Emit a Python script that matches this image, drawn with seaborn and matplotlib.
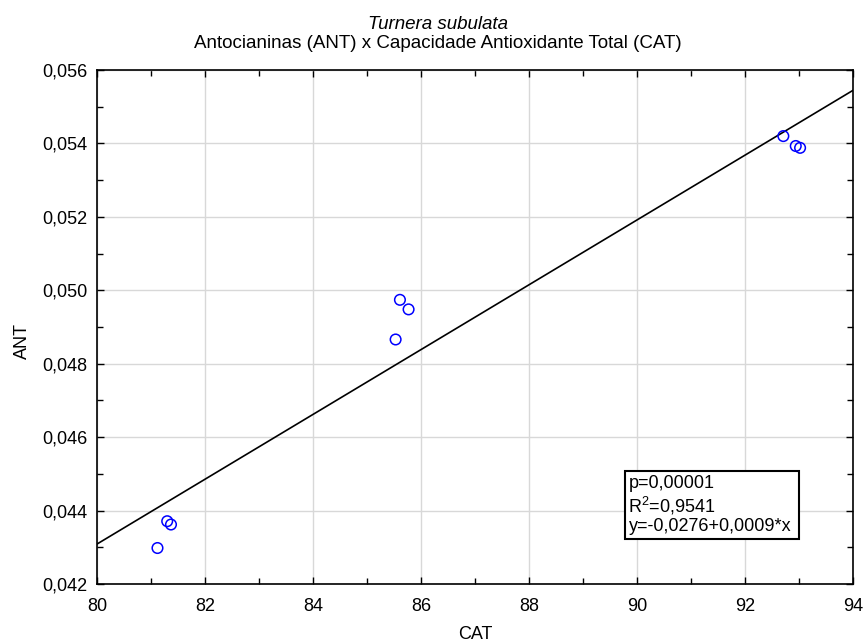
import numpy as np
import pandas as pd
import seaborn as sns
import matplotlib.pyplot as plt
import matplotlib.ticker as ticker
from matplotlib.patches import Rectangle

# values
cat = [81.12, 81.30, 81.37, 85.53, 85.61, 85.77, 92.71, 92.94, 93.02]
ant = [0.04298, 0.04371, 0.04362, 0.04866, 0.04974, 0.04948, 0.05420, 0.05393, 0.05388]
stats_lines = ['p=0,00001', 'R$^2$=0,9541', 'y=-0,0276+0,0009*x']

df = pd.DataFrame({'CAT': cat, 'ANT': ant})

sns.set_style('ticks')
plt.rcParams['font.family'] = ['Liberation Sans', 'DejaVu Sans']
plt.rcParams['mathtext.fontset'] = 'custom'
plt.rcParams['mathtext.rm'] = 'Liberation Sans'
plt.rcParams['text.color'] = 'black'
plt.rcParams['axes.labelcolor'] = 'black'
plt.rcParams['xtick.color'] = 'black'
plt.rcParams['ytick.color'] = 'black'

fig = plt.figure(figsize=(8.64, 6.42), dpi=100)
ax = fig.add_axes([97 / 864, 1 - 584 / 642, 756 / 864, 514 / 642])
ax.set_xlim(80, 94)
ax.set_ylim(0.042, 0.056)

ax.grid(True, which='major', color='#d8d8d8', linewidth=1)
ax.set_axisbelow(True)

# regression line across the whole x range
sns.regplot(data=df, x='CAT', y='ANT', ax=ax, scatter=False, ci=None, truncate=False,
            line_kws={'color': 'black', 'linewidth': 1.2})
sns.scatterplot(data=df, x='CAT', y='ANT', ax=ax, marker='o', s=58,
                facecolors='none', edgecolor='blue', linewidth=1.1, zorder=3)
ax.set_xlim(80, 94)
ax.set_ylim(0.042, 0.056)

ax.xaxis.set_major_locator(ticker.MultipleLocator(2))
ax.xaxis.set_minor_locator(ticker.MultipleLocator(1))
ax.yaxis.set_major_locator(ticker.MultipleLocator(0.002))
ax.yaxis.set_minor_locator(ticker.MultipleLocator(0.001))
ax.yaxis.set_major_formatter(ticker.FuncFormatter(lambda v, p: f'{v:.3f}'.replace('.', ',')))
ax.xaxis.set_major_formatter(ticker.FuncFormatter(lambda v, p: f'{v:.0f}'))
ax.tick_params(which='both', direction='in', top=True, right=True, labelsize=13,
               color='black', labelcolor='black', width=1)
ax.tick_params(which='major', length=5)
ax.tick_params(which='minor', length=4)
ax.tick_params(axis='x', which='major', pad=10)
ax.tick_params(axis='y', which='major', pad=7)
for s in ax.spines.values():
    s.set_linewidth(1.2)
    s.set_color('black')

ax.set_xlabel('CAT', fontsize=13, color='black')
ax.set_ylabel('ANT', fontsize=13, color='black')
ax.xaxis.set_label_coords(0.5, -0.081)
ax.yaxis.set_label_coords(-0.088, 0.473)

# two-line title, centred on the figure
fig.text(438 / 864, 1 - 29 / 642, 'Turnera subulata', ha='center',
         va='baseline', fontsize=13.5, style='italic', color='black')
fig.text(438 / 864, 1 - 48 / 642, 'Antocianinas (ANT) x Capacidade Antioxidante Total (CAT)',
         ha='center', va='baseline', fontsize=13.5, color='black')

# statistics box
ax.add_patch(Rectangle((0.6984, 0.0875), 0.2302, 0.1329, transform=ax.transAxes,
                       facecolor='white', edgecolor='black', linewidth=1.5, zorder=4))
for i, line in enumerate(stats_lines):
    ax.text(0.703, 0.1946 - i * 0.0418, line, transform=ax.transAxes, ha='left',
            va='center', fontsize=13, color='black', zorder=5)

fig.savefig('out.png', dpi=100)
